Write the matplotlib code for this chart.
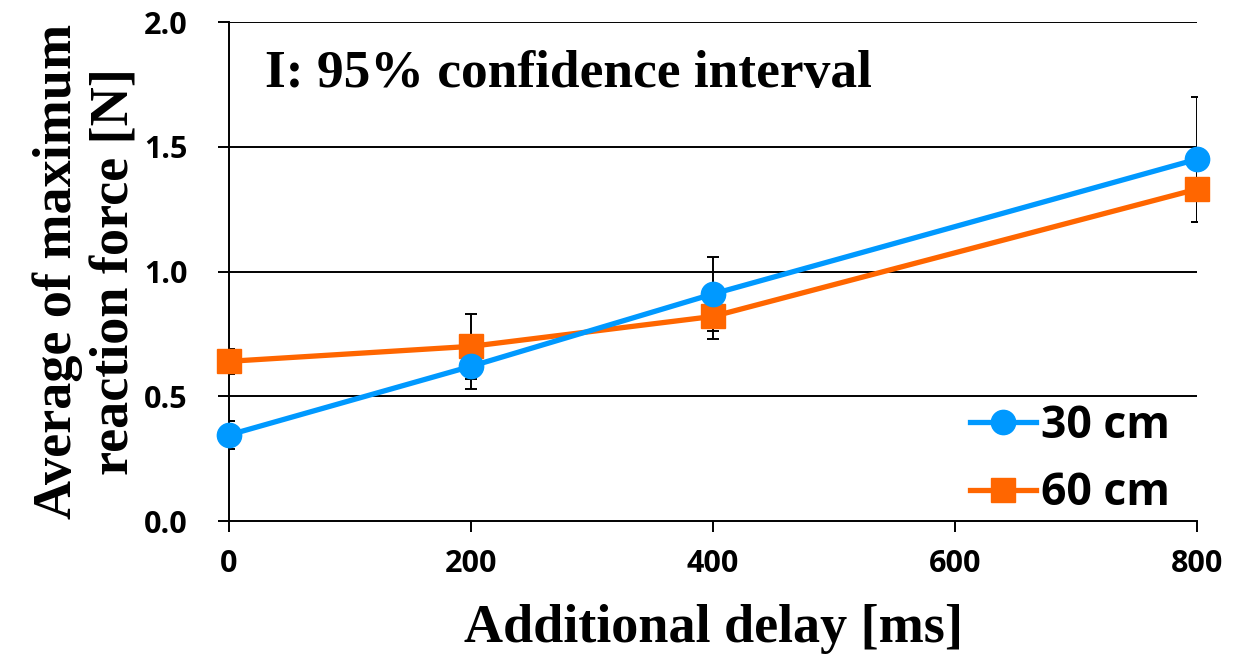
import matplotlib
matplotlib.use("Agg")
import matplotlib.pyplot as plt

# Data
delay_ms = [0, 200, 400, 800]
force_30cm = [0.345, 0.62, 0.91, 1.45]
force_60cm = [0.64, 0.70, 0.82, 1.33]
ci_30cm = [0.055, 0.09, 0.15, 0.25]
ci_60cm = [0.05, 0.13, 0.09, 0.13]
y_ticks = [0.0, 0.5, 1.0, 1.5, 2.0]
x_ticks = [0, 200, 400, 600, 800]

blue = "#0099FF"
orange = "#FF6600"
sans = ["Open Sans", "DejaVu Sans"]
serif = ["Liberation Serif", "DejaVu Serif"]


def main():
    fig = plt.figure(figsize=(12.34, 6.59), dpi=100)
    ax = fig.add_axes([0.1856, 0.2094, 0.7844, 0.7572])

    # horizontal grid lines
    for y in y_ticks[1:]:
        ax.axhline(y, color="black", lw=1.4, zorder=1)

    # error bars (clipped to the plot area like the original)
    ax.errorbar(delay_ms, force_30cm, yerr=ci_30cm, fmt="none", ecolor="black",
                elinewidth=1.4, capsize=4.5, capthick=1.4, zorder=2)
    ax.errorbar(delay_ms, force_60cm, yerr=ci_60cm, fmt="none", ecolor="black",
                elinewidth=1.4, capsize=4.5, capthick=1.4, zorder=2)

    ax.plot(delay_ms, force_30cm, color=blue, lw=3.8, marker="o", markersize=17.5,
            label="30 cm", clip_on=False, zorder=4)
    ax.plot(delay_ms, force_60cm, color=orange, lw=3.8, marker="s", markersize=17.5,
            label="60 cm", clip_on=False, zorder=3)

    ax.set_xlim(0, 800)
    ax.set_ylim(0, 2.0)
    ax.set_xticks(x_ticks)
    ax.set_yticks(y_ticks)
    ax.set_yticklabels([f"{v:.1f}" for v in y_ticks])

    for side in ["top", "right"]:
        ax.spines[side].set_visible(False)
    ax.spines["left"].set_linewidth(1.4)
    ax.spines["bottom"].set_linewidth(1.4)
    ax.tick_params(axis="both", direction="out", length=8, width=1.4)
    ax.tick_params(axis="x", pad=12)
    ax.tick_params(axis="y", pad=22)
    for lab in ax.get_xticklabels() + ax.get_yticklabels():
        lab.set_fontfamily(sans)
        lab.set_fontweight("bold")
        lab.set_fontsize(22)

    ax.set_xlabel("Additional delay [ms]", fontfamily=serif, fontweight="bold",
                  fontsize=39, labelpad=18)
    ax.set_ylabel("Average of maximum\nreaction force [N]", fontfamily=serif,
                  fontweight="bold", fontsize=39, labelpad=2, linespacing=1.2)

    ax.text(0.037, 0.895, "I: 95% confidence interval", transform=ax.transAxes,
            fontfamily=serif, fontweight="bold", fontsize=38.5, va="center")

    ax.legend(loc="lower right", frameon=False, handlelength=1.5,
              handletextpad=0.1, labelspacing=0.5, borderaxespad=0.1,
              bbox_to_anchor=(0.995, -0.035),
              prop={"family": sans, "weight": "bold", "size": 32})

    fig.savefig("out.png", dpi=100)


if __name__ == "__main__":
    main()
